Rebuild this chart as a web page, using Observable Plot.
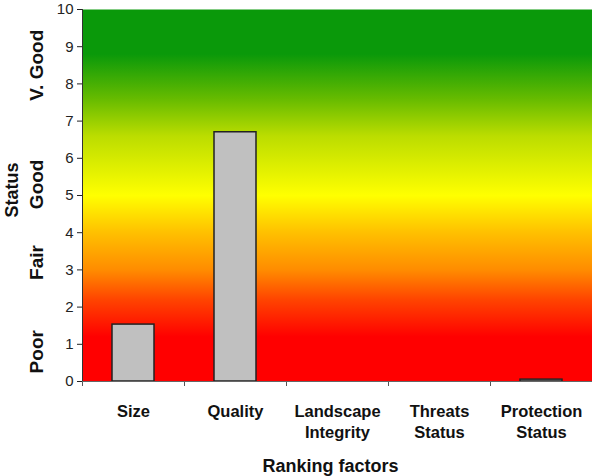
<!DOCTYPE html>
<html>
<head>
<meta charset="utf-8">
<script src="https://cdn.jsdelivr.net/npm/d3@7"></script>
<script src="https://cdn.jsdelivr.net/npm/@observablehq/plot@0.6"></script>
<style>
  html, body { margin: 0; padding: 0; background: #fff; }
  svg { display: block; }
</style>
</head>
<body>
<div id="chart"></div>
<script>
// Data
const factors = ["Size", "Quality", "Landscape\nIntegrity", "Threats\nStatus", "Protection\nStatus"];
const values = [1.53, 6.7, 0, 0, 0.05];
const yTicks = [0, 1, 2, 3, 4, 5, 6, 7, 8, 9, 10];
const statusLabels = ["Poor", "Fair", "Good", "V. Good"];
const statusPositions = [0.8, 3.2, 5.3, 8.5];
const gradStops = [0, 1.2, 2.2, 3, 4, 5, 6.6, 7.6, 8.8, 10];
const gradColors = ["#ff0000", "#ff0000", "#ff4400", "#ff8c00", "#ffc000", "#ffff00", "#bbdd00", "#66bb00", "#0a990a", "#0a990a"];

const data = factors.map((f, i) => ({factor: f, value: values[i]}));
const statusData = statusLabels.map((s, i) => ({label: s, y: statusPositions[i]}));

const font = "Liberation Sans, Arial, sans-serif";

const gradientDefs = () => {
  const ns = "http://www.w3.org/2000/svg";
  const defs = document.createElementNS(ns, "defs");
  const lg = document.createElementNS(ns, "linearGradient");
  lg.setAttribute("id", "bgGrad");
  lg.setAttribute("x1", "0"); lg.setAttribute("y1", "1");
  lg.setAttribute("x2", "0"); lg.setAttribute("y2", "0");
  gradStops.forEach((v, i) => {
    const s = document.createElementNS(ns, "stop");
    s.setAttribute("offset", String(v / 10));
    s.setAttribute("stop-color", gradColors[i]);
    lg.appendChild(s);
  });
  defs.appendChild(lg);
  return defs;
};

const chart = Plot.plot({
  width: 592,
  height: 476,
  marginTop: 9,
  marginBottom: 95,
  marginLeft: 82,
  marginRight: 0,
  style: {fontFamily: font, background: "#fff"},
  x: {domain: factors, paddingInner: 0.59, paddingOuter: 0.295, label: null},
  y: {domain: [0, 10], label: null},
  marks: [
    gradientDefs,
    Plot.frame({fill: "url(#bgGrad)", stroke: null}),
    Plot.barY(data, {x: "factor", y: "value", fill: "#c0c0c0", stroke: "#222", strokeWidth: 1.5}),
    // y axis
    Plot.axisY({ticks: yTicks, tickSize: 5, tickPadding: 4, fontSize: 15, label: null, color: "#222"}),
    Plot.frame({anchor: "left", stroke: "#333"}),
    // x axis: boundary ticks
    Plot.axisX({ticks: factors, tickSize: 5, dx: -51, tickFormat: () => "", label: null, stroke: "#555"}),
    Plot.ruleY([0], {stroke: "#666"}),
    // category labels
    Plot.axisX({ticks: factors, tickSize: 0, tickPadding: 20, fontSize: 16.5, fontWeight: "bold", lineHeight: 1.28, label: null, fill: "#111"}),
    // axis title
    Plot.text(["Ranking factors"], {frameAnchor: "bottom", dx: -7, dy: 90, lineAnchor: "bottom", fontSize: 18, fontWeight: "bold", fill: "#111"}),
    // status labels
    Plot.text(statusData, {y: "y", text: "label", frameAnchor: "left", textAnchor: "middle", dx: -46, rotate: -90, fontSize: 19, fontWeight: "bold", fill: "#111"}),
    Plot.text(["Status"], {y: [5.15], frameAnchor: "left", textAnchor: "middle", dx: -70, rotate: -90, fontSize: 18, fontWeight: "bold", fill: "#111"})
  ]
});
document.getElementById("chart").appendChild(chart);
</script>
</body>
</html>
